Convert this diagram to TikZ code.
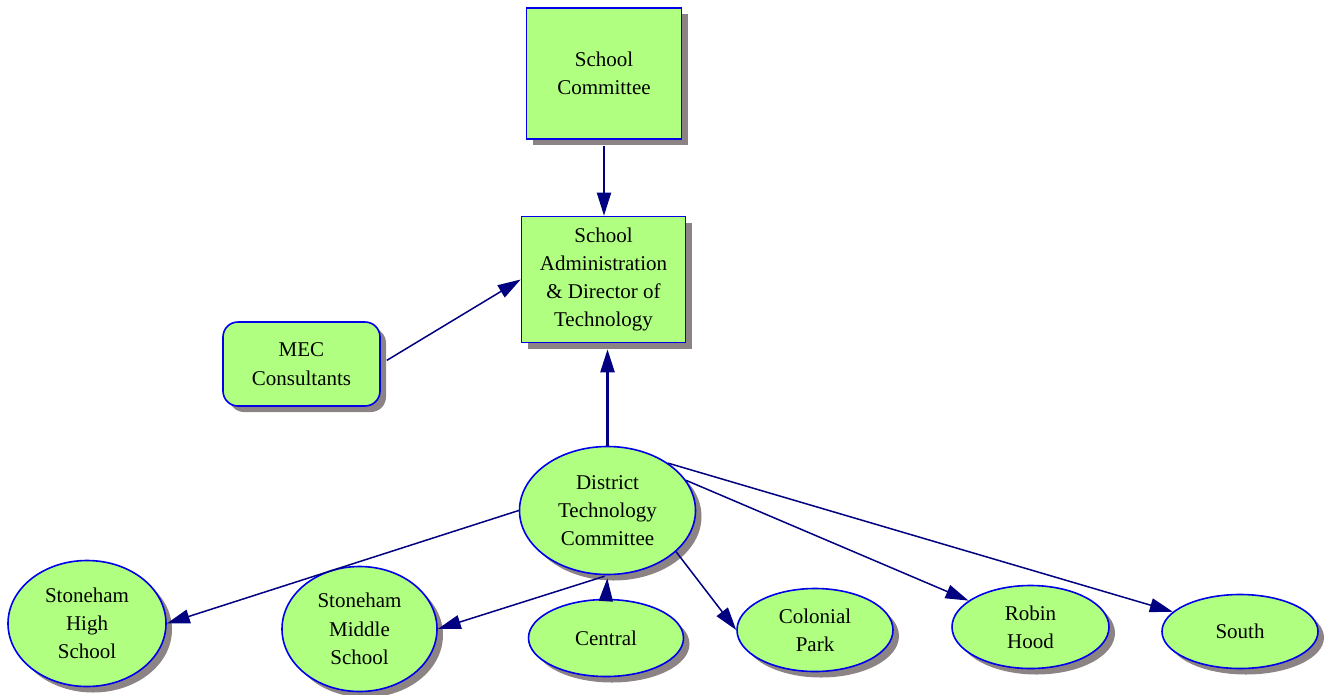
\documentclass[tikz,border=0pt]{standalone}
\usepackage{fontspec}
\setmainfont{Liberation Serif}
\usetikzlibrary{shapes.geometric,shadows,arrows.meta}
\definecolor{boxgreen}{RGB}{176,255,128}
\definecolor{edgeblue}{RGB}{0,0,235}
\definecolor{arrownavy}{RGB}{0,0,128}
\definecolor{shadowgray}{RGB}{140,132,132}

\begin{document}
\begin{tikzpicture}[x=1pt,y=-1pt,
    unit/.style={draw=edgeblue, line width=1.6pt, fill=boxgreen, align=center,
      inner sep=0pt, font=\fontsize{21}{28.3}\selectfont,
      general shadow={fill=shadowgray, shadow xshift=6pt, shadow yshift=-6pt}},
    sqbox/.style={unit, rectangle},
    roundbox/.style={unit, rectangle, rounded corners=15pt},
    oval/.style={unit, ellipse},
    link/.style={draw=arrownavy, line width=1.5pt, -{Triangle[length=23pt,width=14pt]}}]
  \useasboundingbox (0,0) rectangle (1331,694);

  \node [sqbox, minimum width=155pt, minimum height=131pt] (sc) at (604,73.5) {School\\Committee};
  \node [sqbox, minimum width=164pt, minimum height=126pt] (adm) at (603.5,279.5) {School\\Administration\\\& Director of\\Technology};
  \node [roundbox, minimum width=157pt, minimum height=84pt] (mec) at (301.5,364) {MEC\\Consultants};
  \node [oval, minimum width=176pt, minimum height=128pt] (dtc) at (607.5,510.5) {District\\Technology\\Committee};

  \node [oval, minimum width=158pt, minimum height=126pt] (shs) at (87,623.5) {Stoneham\\High\\School};
  \node [oval, minimum width=155pt, minimum height=125pt] (sms) at (359.5,629) {Stoneham\\Middle\\School};
  \node [oval, minimum width=155pt, minimum height=77pt] (cen) at (606,638) {Central};
  \node [oval, minimum width=156pt, minimum height=83pt] (col) at (815,630) {Colonial\\Park};
  \node [oval, minimum width=157pt, minimum height=83pt] (rob) at (1030.5,627) {Robin\\Hood};
  \node [oval, minimum width=156pt, minimum height=74pt] (sou) at (1240,631.5) {South};

  \draw[link, line width=2pt, shorten <=6pt] (sc) -- (sc |- adm.north);
  \draw[link, shorten <=7pt] (mec.east) -- (adm.west);
  \draw[link, line width=2.4pt, shorten >=6pt] (dtc.north) -- (dtc.north |- adm.south);
  \draw[link] (dtc.west) -- (shs.east);
  \draw[link, shorten <=3pt] (dtc.south) -- (sms.east);
  \draw[link, shorten >=3pt] (cen.north) -- (dtc.south);
  \draw[link] (dtc.-31) -- (col.west);
  \draw[link] (dtc.21) -- (rob);
  \draw[link] (dtc.38) -- (sou);
\end{tikzpicture}
\end{document}
